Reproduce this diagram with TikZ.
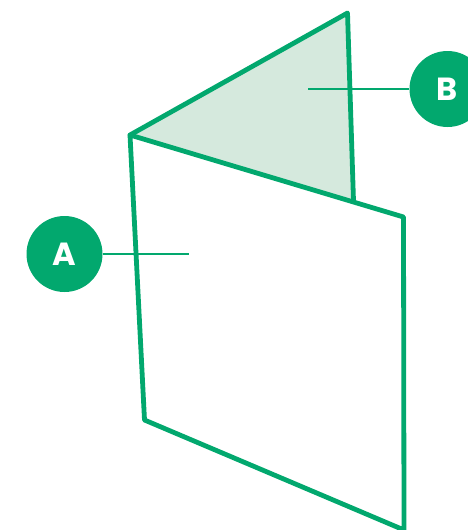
\documentclass[tikz,border=0pt]{standalone}
\usepackage{fontspec}
\setmainfont{Poppins}[BoldFont={Poppins Bold}]
\definecolor{brandgreen}{HTML}{02A86E}
\definecolor{foldfill}{HTML}{D5E9DD}
\tikzset{
  panel/.style={draw=brandgreen,line width=4.8pt,line join=round,line cap=round},
  leader/.style={draw=brandgreen,line width=1.6pt},
  badge/.style={circle,fill=brandgreen,draw=none,minimum size=76pt,inner sep=0pt,text=white,font=\fontsize{32}{32}\selectfont\bfseries}
}
\begin{document}
\begin{tikzpicture}[x=1pt,y=-1pt]
\useasboundingbox (0,0) rectangle (467,530);
\coordinate (hinge) at (130,135);
\coordinate (peak) at (347.5,13);
\coordinate (foldend) at (353.5,201);
\coordinate (topright) at (403.5,217);
\coordinate (botright) at (404,530);
\coordinate (botleft) at (144.5,420);
\coordinate (aEnd) at (189,254);
\coordinate (bEnd) at (308,89);
\fill[foldfill] (hinge) -- (peak) -- (foldend) -- cycle;
\node[badge] (A) at (64.5,254) {A};
\node[badge] (B) at (447.5,89) {B};
\draw[leader] (A.east) -- (aEnd);
\draw[leader] (B.west) -- (bEnd);
\draw[panel] (foldend) -- (peak) -- (hinge);
\draw[panel] (hinge) -- (topright) -- (botright) -- (botleft) -- cycle;
\end{tikzpicture}
\end{document}
